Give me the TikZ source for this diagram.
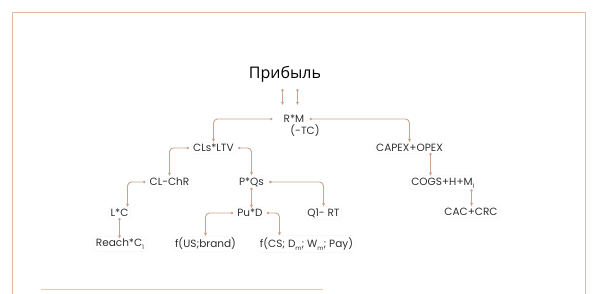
\documentclass[tikz,border=0pt]{standalone}
\usepackage{fontspec}
\setmainfont{Poppins}
\newfontfamily\titlefont{Open Sans}
\usetikzlibrary{arrows.meta,calc}
\definecolor{framec}{HTML}{DDBBA6}
\definecolor{linec}{HTML}{CDA28A}
\definecolor{txtc}{HTML}{303030}
\newcommand\lowsub[1]{\raisebox{-0.5ex}{\fontsize{6}{6}\selectfont #1}}
\begin{document}
\begin{tikzpicture}[x=1pt,y=-1pt,
  lbl/.style={font=\fontsize{10.5}{12}\selectfont, text=txtc, inner sep=2pt, draw=black!4, line width=0.4pt, rounded corners=3pt},
  plain/.style={font=\fontsize{10.5}{12}\selectfont, text=txtc, inner sep=1pt},
  link/.style={draw=linec, line width=0.9pt, rounded corners=4pt, {Circle[open,length=2.4pt,fill=white]}-{Stealth[length=3.4pt,width=3.2pt]}}]
\useasboundingbox (0,0) rectangle (600,294);
\draw[framec, line width=1pt] (12.5,300) |- (585.5,12.5) -- (585.5,300);
\draw[framec!80, line width=1pt] (41,289.5) -- (323,289.5);

\node[font=\titlefont\fontsize{16}{19}\selectfont, text=black] (title) at (285,74) {Прибыль};
\node[plain] (rm) at (294,119) {R*M};
\node[plain] (tc) at (305,131) {(-TC)};
\node[lbl] (cls) at (213.5,148) {CLs*LTV};
\node[lbl] (cap) at (409.5,148) {CAPEX+OPEX};
\node[lbl] (clchr) at (169.5,182) {CL-ChR};
\node[lbl] (pqs) at (251.5,182) {P*Qs};
\node[lbl] (cogs) at (443,183) {COGS+H+M\lowsub{1}};
\node[lbl] (lc) at (119.5,213) {L*C};
\node[lbl] (pud) at (250,213) {Pu*D};
\node[lbl] (q1) at (323.5,213) {Q1- RT};
\node[lbl] (cac) at (471,212) {CAC+CRC};
\node[lbl] (reach) at (120,244) {Reach*C\lowsub{1}};
\node[lbl] (fus) at (205.5,244) {f(US;brand)};
\node[lbl] (fcs) at (306.5,244) {f(CS; D\lowsub{m}; W\lowsub{m}; Pay)};

% title arrows
\coordinate (t1) at (282.5,89);
\coordinate (t2) at (297.5,89);
\coordinate (e1) at (282.5,105);
\coordinate (e2) at (297.5,105);
\draw[link] (t1) -- (e1);
\draw[link] (t2) -- (e2);

% R*M
\draw[link] ([xshift=-10pt]rm.west) -| (cls.north);
\draw[link] ([xshift=4pt]rm.east) -| (cap.north);
% CLs*LTV
\draw[link] ([xshift=-2pt]cls.west) -| (clchr.north);
\draw[link] ([xshift=2pt]cls.east) -| (pqs.north);
% CL-ChR
\draw[link] ([xshift=-2pt]clchr.west) -| ([xshift=8pt]lc.north);
\draw[link] ([yshift=1pt]lc.south) -- ([yshift=-2pt]lc.south |- reach.north);
% P*Qs
\draw[link] ([yshift=1pt]pqs.south) -- ([yshift=-1pt]pqs.south |- pud.north);
\draw[link] ([xshift=3pt]pqs.east) -| (q1.north);
% Pu*D
\draw[link] ([xshift=-2pt]pud.west) -| (fus.north);
\draw[link] ([xshift=2pt]pud.east) -| ([xshift=-27pt]fcs.north);
% CAPEX
\draw[link] ([xshift=21pt,yshift=1pt]cap.south) -- ([xshift=21pt]cap.south |- cogs.north);
\draw[link] ([xshift=28.5pt,yshift=1pt]cogs.south) -- ([xshift=28.5pt]cogs.south |- cac.north);
\end{tikzpicture}
\end{document}
